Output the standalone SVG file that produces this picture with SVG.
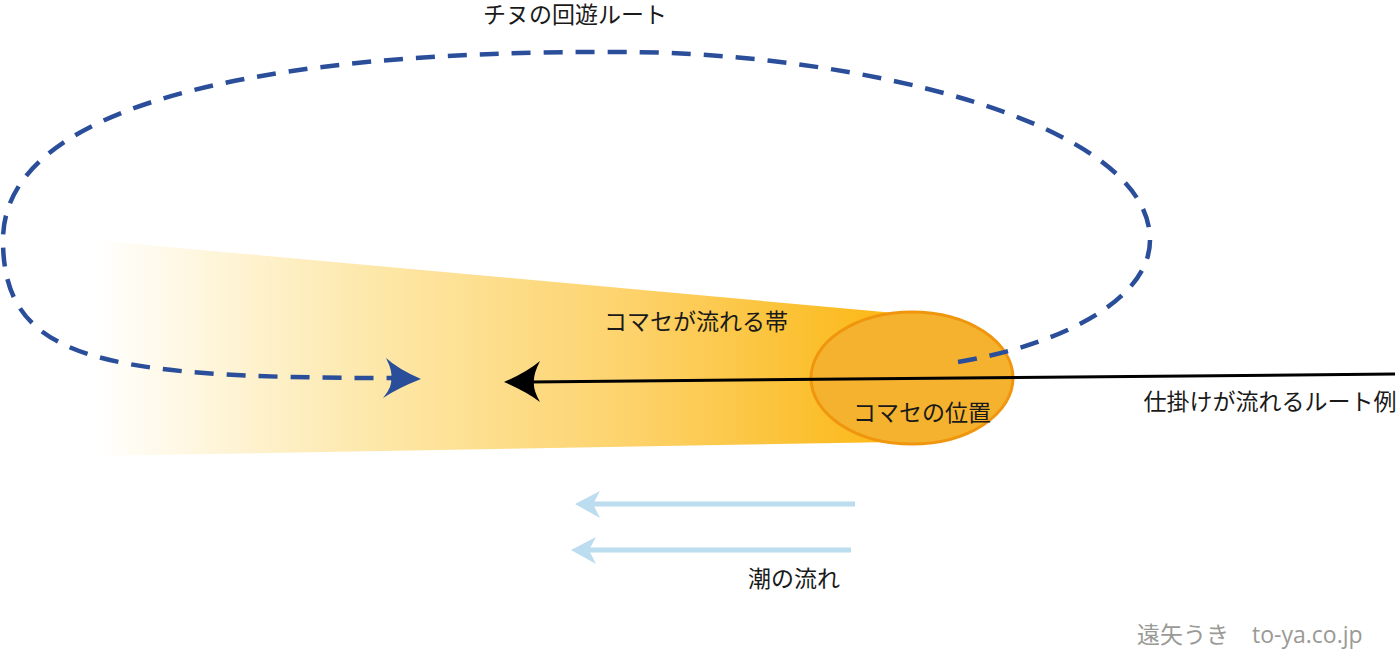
<svg xmlns="http://www.w3.org/2000/svg" width="1400" height="650" viewBox="0 0 1400 650">
<defs>
<linearGradient id="band" x1="92" y1="0" x2="890" y2="0" gradientUnits="userSpaceOnUse">
<stop offset="0" stop-color="#ffffff"/>
<stop offset="0.35" stop-color="#fde8aa"/>
<stop offset="0.68" stop-color="#fdd26a"/>
<stop offset="1" stop-color="#fbb816"/>
</linearGradient>
<style>
.t{font-family:"Noto Sans CJK JP","Noto Sans",sans-serif;font-size:23px;fill:#1a1a1a}
.sig{font-family:"Open Sans","Noto Sans CJK JP",sans-serif;font-size:23px;fill:#9a9a96}
.route{fill:none;stroke:#2a4e9a;stroke-width:4.5;stroke-dasharray:19 13}
.tide{stroke:#bcdcef;stroke-width:5;fill:none}
</style>
</defs>
<rect width="1400" height="650" fill="#ffffff"/>
<g id="band-area">
<polygon points="92,240 895,313 895,442 92,456" fill="url(#band)"/>
<text class="t" x="696" y="330" text-anchor="middle">コマセが流れる帯</text>
</g>
<g id="komase">
<ellipse cx="912" cy="378" rx="101" ry="66" fill="#f5b22e" stroke="#f0960e" stroke-width="3"/>
<text class="t" x="922" y="421" text-anchor="middle">コマセの位置</text>
</g>
<g id="connectors">
<path class="route" d="M958,362 C1060,345 1150,300 1150,240 C1150,120 850,52 620,52 C260,50 3,105 3,240 C3,360 100,378 392,378"/>
<path d="M421,379 Q398,369 386,358 Q393,372 391,378 Q393,386 383,398 Q398,388 421,379 Z" fill="#2a4e9a"/>
<line x1="1395" y1="374" x2="530" y2="382" stroke="#000" stroke-width="3"/>
<path d="M504,382 Q527,372 540,361 Q533,375 534,382 Q533,390 540,402 Q527,392 504,382 Z" fill="#000"/>
<line class="tide" x1="855" y1="504" x2="590" y2="504"/>
<path d="M575,504 L600,491 L593,504 L600,518 Z" fill="#bcdcef"/>
<line class="tide" x1="851" y1="550" x2="586" y2="550"/>
<path d="M571,550 L596,537 L589,550 L596,564 Z" fill="#bcdcef"/>
</g>
<g id="labels">
<text class="t" x="575" y="23" text-anchor="middle">チヌの回遊ルート</text>
<text class="t" x="1270" y="410" text-anchor="middle">仕掛けが流れるルート例</text>
<text class="t" x="794" y="587" text-anchor="middle">潮の流れ</text>
<text class="sig" x="1137" y="643">遠矢うき　to-ya.co.jp</text>
</g>
</svg>
